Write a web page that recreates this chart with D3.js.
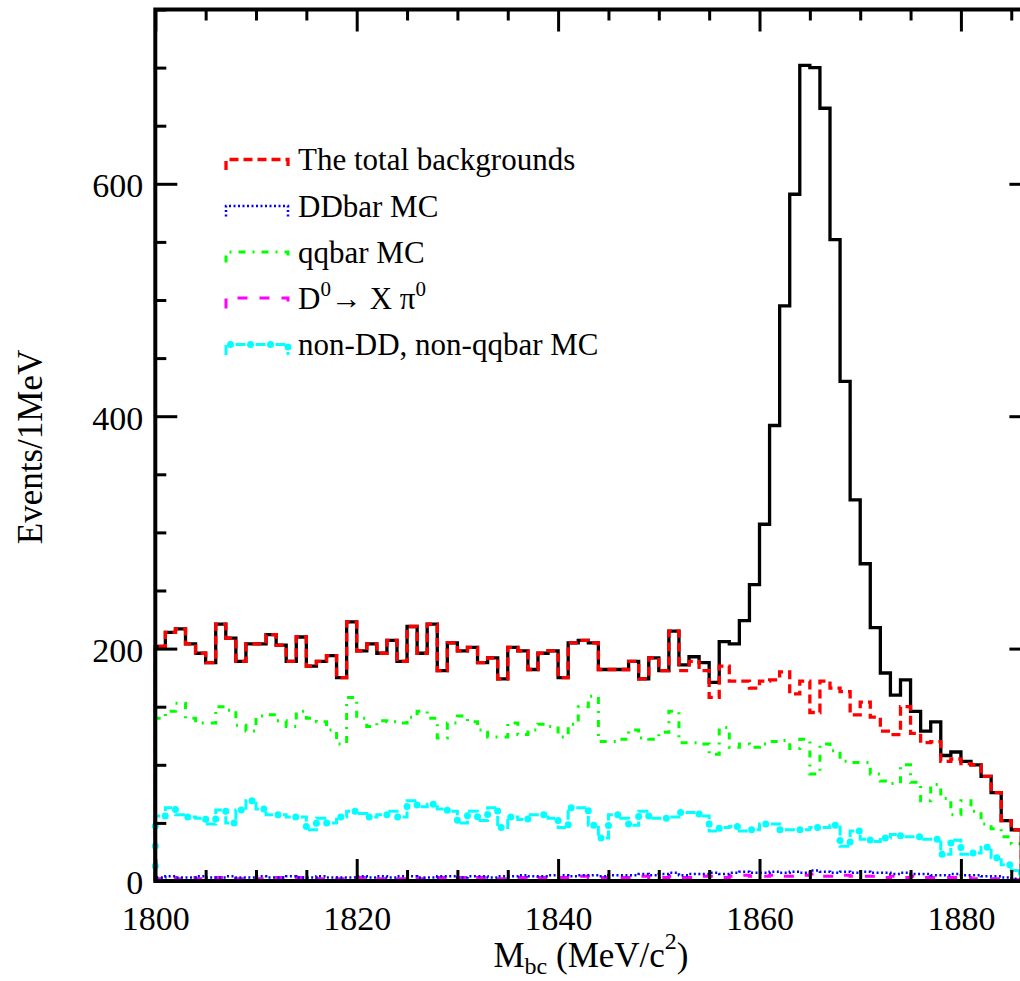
<!DOCTYPE html>
<html>
<head>
<meta charset="utf-8">
<script src="https://cdn.jsdelivr.net/npm/d3@7"></script>
<style>
  html, body { margin: 0; padding: 0; background: #ffffff; }
  svg { display: block; }
</style>
</head>
<body>
<svg id="chart" width="1020" height="981"></svg>
<script>
// M_bc spectrum, 1 MeV bins starting at 1800 MeV/c^2
const massLow = 1800;
const massHigh = 1887;
const binWidth = 1;

// Observed events per bin
const dataCounts = [
  202, 214, 217, 204, 196, 188, 221, 209, 189, 204,
  204, 212, 203, 189, 210, 185, 189, 194, 175, 223,
  198, 204, 196, 207, 189, 219, 196, 221, 181, 205,
  198, 201, 188, 192, 174, 201, 198, 182, 196, 198,
  175, 205, 207, 205, 182, 182, 182, 189, 174, 192,
  181, 215, 186, 193, 188, 171, 206, 204, 224, 255,
  307, 392, 495, 591, 702, 700, 665, 552, 430, 328,
  273, 218, 179, 160, 173, 146, 129, 137, 108, 111,
  103, 100, 90, 76, 52, 44
];

// Sum of all background contributions
const totalBackground = [
  202, 214, 217, 204, 196, 188, 221, 209, 189, 204,
  204, 212, 203, 189, 210, 185, 189, 194, 175, 223,
  198, 204, 196, 207, 189, 219, 196, 221, 181, 205,
  198, 201, 188, 192, 174, 201, 198, 182, 196, 198,
  175, 205, 207, 205, 182, 182, 182, 189, 174, 192,
  181, 215, 181, 189, 181, 158, 185, 172, 172, 166,
  172, 173, 180, 161, 172, 145, 172, 166, 163, 143,
  154, 141, 129, 126, 150, 127, 119, 120, 103, 105,
  101, 100, 90, 76, 52, 44
];

// DDbar MC
const ddbarMC = [
  3, 4, 3, 3, 4, 3, 3, 4, 3, 3,
  4, 3, 3, 4, 3, 3, 4, 3, 3, 3,
  4, 3, 4, 3, 4, 4, 3, 3, 4, 4,
  3, 4, 4, 3, 4, 4, 5, 4, 4, 5,
  5, 4, 5, 5, 4, 5, 5, 5, 6, 5,
  6, 7, 5, 6, 6, 7, 6, 7, 8, 7,
  7, 8, 7, 8, 7, 9, 8, 7, 8, 7,
  8, 7, 7, 6, 7, 6, 6, 5, 5, 6,
  5, 5, 4, 4, 3, 2
];

// qqbar MC
const qqbarMC = [
  140, 146, 153, 140, 136, 136, 150, 147, 134, 129,
  142, 143, 138, 133, 146, 140, 137, 130, 118, 158,
  140, 133, 138, 137, 136, 141, 146, 140, 123, 136,
  142, 137, 130, 124, 124, 136, 126, 130, 135, 133,
  124, 135, 150, 159, 120, 120, 122, 130, 123, 122,
  128, 146, 119, 119, 118, 109, 132, 115, 118, 115,
  118, 120, 121, 114, 122, 92, 118, 112, 103, 102,
  102, 92, 86, 84, 100, 85, 69, 83, 71, 57,
  69, 60, 49, 45, 38, 32
];

// D0 -> X pi0
const dToXPi0 = [
  2, 3, 2, 3, 2, 2, 3, 2, 2, 3,
  2, 2, 3, 2, 3, 2, 2, 3, 2, 2,
  3, 2, 2, 3, 2, 3, 2, 2, 3, 2,
  3, 2, 3, 3, 2, 3, 3, 2, 3, 3,
  3, 3, 4, 3, 3, 4, 3, 3, 4, 3,
  3, 4, 3, 3, 4, 4, 3, 4, 5, 4,
  4, 5, 4, 4, 5, 6, 4, 4, 5, 4,
  4, 4, 3, 4, 3, 4, 3, 3, 3, 3,
  3, 2, 2, 2, 2, 1
];

// non-DD, non-qqbar MC
const nonDDnonQQ = [
  56, 63, 57, 55, 54, 49, 61, 50, 61, 69,
  62, 57, 57, 55, 55, 44, 54, 50, 55, 60,
  58, 55, 57, 60, 55, 69, 64, 66, 62, 60,
  50, 60, 52, 63, 46, 55, 53, 57, 57, 54,
  46, 63, 63, 48, 37, 57, 54, 48, 60, 54,
  54, 55, 59, 59, 56, 43, 46, 47, 43, 44,
  49, 49, 44, 44, 44, 46, 46, 48, 30, 43,
  36, 34, 37, 40, 38, 38, 36, 36, 23, 35,
  23, 24, 29, 20, 14, 9
];

// Axis ticks
const xMajorTicks = [1800, 1820, 1840, 1860, 1880];
const xMinorTicks = [1805, 1810, 1815, 1825, 1830, 1835, 1845, 1850, 1855, 1865, 1870, 1875, 1885];
const yMajorTicks = [0, 200, 400, 600];
const yMinorTicks = [50, 100, 150, 250, 300, 350, 450, 500, 550, 650, 700, 750];

const legendLabels = ["The total backgrounds", "DDbar MC", "qqbar MC", "D0→ X π0", "non-DD, non-qqbar MC"];

const serif = "'Liberation Serif', 'Times New Roman', Times, serif";

const svg = d3.select("#chart");

const x = d3.scaleLinear().domain([massLow, massHigh]).range([155.3, 1031.4]);
const y = d3.scaleLinear().domain([0, 750]).range([881, 9.5]);

// Step outline of a histogram, closed down to zero at both ends
function histPath(values) {
  let p = `M${x(massLow)},${y(0)}`;
  values.forEach((v, i) => {
    p += `V${y(v)}H${x(massLow + (i + 1) * binWidth)}`;
  });
  p += `V${y(0)}`;
  return p;
}

const series = [
  { values: nonDDnonQQ, color: "#00ffff", width: 3, dash: "10 10", dots: true },
  { values: dToXPi0, color: "#ff00ff", width: 3, dash: "10 12" },
  { values: ddbarMC, color: "#0000ff", width: 2.5, dash: "2 2.5" },
  { values: qqbarMC, color: "#00ff00", width: 3, dash: "7 7 2 7" },
  { values: dataCounts, color: "#000000", width: 3.3, dash: null },
  { values: totalBackground, color: "#ff0000", width: 3.3, dash: "9 5" }
];

const plot = svg.append("g").attr("class", "histograms");
series.forEach(s => {
  const d = histPath(s.values);
  plot.append("path")
    .attr("d", d)
    .attr("fill", "none")
    .attr("stroke", s.color)
    .attr("stroke-width", s.width)
    .attr("stroke-dasharray", s.dash)
    .attr("stroke-linejoin", "miter");
  if (s.dots) {
    plot.append("path")
      .attr("d", d)
      .attr("fill", "none")
      .attr("stroke", s.color)
      .attr("stroke-width", 7)
      .attr("stroke-linecap", "round")
      .attr("stroke-dasharray", "0 20")
      .attr("stroke-dashoffset", -15);
  }
});

// Frame
svg.append("rect")
  .attr("x", x(massLow)).attr("y", y(750))
  .attr("width", x(massHigh) - x(massLow))
  .attr("height", y(0) - y(750))
  .attr("fill", "none")
  .attr("stroke", "#000")
  .attr("stroke-width", 4);

function styleAxis(g) {
  g.select(".domain").remove();
  g.selectAll(".tick line").attr("stroke", "#000").attr("stroke-width", 3);
  g.attr("font-family", serif).attr("font-size", 34);
  g.selectAll(".tick text").attr("fill", "#000");
}

// Bottom axis
svg.append("g")
  .attr("transform", `translate(0,${y(0)})`)
  .call(d3.axisBottom(x).tickValues(xMajorTicks).tickSize(-22).tickPadding(25).tickFormat(d3.format("d")))
  .call(styleAxis);
svg.append("g")
  .attr("transform", `translate(0,${y(0)})`)
  .call(d3.axisBottom(x).tickValues(xMinorTicks).tickSize(-11).tickFormat(""))
  .call(styleAxis);

// Top axis
svg.append("g")
  .attr("transform", `translate(0,${y(750)})`)
  .call(d3.axisTop(x).tickValues(xMajorTicks).tickSize(-22).tickFormat(""))
  .call(styleAxis);
svg.append("g")
  .attr("transform", `translate(0,${y(750)})`)
  .call(d3.axisTop(x).tickValues(xMinorTicks).tickSize(-11).tickFormat(""))
  .call(styleAxis);

// Left axis
svg.append("g")
  .attr("transform", `translate(${x(massLow)},0)`)
  .call(d3.axisLeft(y).tickValues(yMajorTicks).tickSize(-22).tickPadding(12).tickFormat(d3.format("d")))
  .call(styleAxis)
  .call(g => g.selectAll(".tick text").attr("dy", "0.38em"));
svg.append("g")
  .attr("transform", `translate(${x(massLow)},0)`)
  .call(d3.axisLeft(y).tickValues(yMinorTicks).tickSize(-11).tickFormat(""))
  .call(styleAxis);

// Right axis
svg.append("g")
  .attr("transform", `translate(${x(massHigh)},0)`)
  .call(d3.axisRight(y).tickValues(yMajorTicks).tickSize(-22).tickFormat(""))
  .call(styleAxis);
svg.append("g")
  .attr("transform", `translate(${x(massHigh)},0)`)
  .call(d3.axisRight(y).tickValues(yMinorTicks).tickSize(-11).tickFormat(""))
  .call(styleAxis);

// Axis titles
const xTitle = svg.append("text")
  .attr("x", 591).attr("y", 967)
  .attr("text-anchor", "middle")
  .attr("font-family", serif).attr("font-size", 35)
  .attr("fill", "#000");
xTitle.append("tspan").text("M");
xTitle.append("tspan").attr("font-size", 24).attr("dy", 7).text("bc");
xTitle.append("tspan").attr("dy", -7).text(" (MeV/c");
xTitle.append("tspan").attr("font-size", 24).attr("dy", -18).text("2");
xTitle.append("tspan").attr("dy", 18).text(")");

svg.append("text")
  .attr("transform", "translate(42,447) rotate(-90)")
  .attr("text-anchor", "middle")
  .attr("font-family", serif).attr("font-size", 35)
  .attr("fill", "#000")
  .text("Events/1MeV");

// Legend
const legendBase = [170, 216.5, 262.5, 308.5, 355];
const legendStyles = [series[5], series[2], series[3], series[1], series[0]];
const legend = svg.append("g").attr("class", "legend");
legendLabels.forEach((label, i) => {
  const s = legendStyles[i];
  const b = legendBase[i];
  const d = `M226,${b}V${b - 10.5}H288V${b}`;
  legend.append("path")
    .attr("d", d)
    .attr("fill", "none")
    .attr("stroke", s.color)
    .attr("stroke-width", s.width)
    .attr("stroke-dasharray", s.dash);
  if (s.dots) {
    legend.append("path")
      .attr("d", d)
      .attr("fill", "none")
      .attr("stroke", s.color)
      .attr("stroke-width", 7)
      .attr("stroke-linecap", "round")
      .attr("stroke-dasharray", "0 20")
      .attr("stroke-dashoffset", -15);
  }
  const t = legend.append("text")
    .attr("x", 298).attr("y", b)
    .attr("font-family", serif).attr("font-size", 31)
    .attr("fill", "#000");
  if (label === "D0→ X π0") {
    t.append("tspan").text("D");
    t.append("tspan").attr("font-size", 21).attr("dy", -13).text("0");
    t.append("tspan").attr("dy", 13).text("→ X π");
    t.append("tspan").attr("font-size", 21).attr("dy", -13).text("0");
  } else {
    t.text(label);
  }
});
</script>
</body>
</html>
